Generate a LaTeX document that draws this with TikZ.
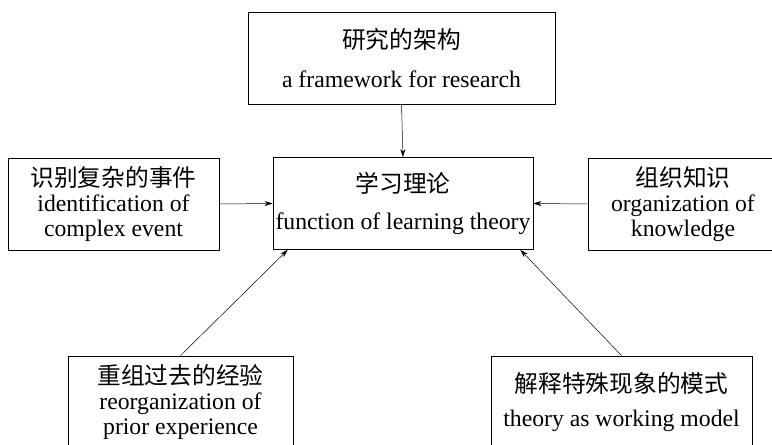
\documentclass[tikz,border=0pt]{standalone}
\usepackage{fontspec}
\setmainfont{Liberation Serif}
\newfontfamily\cjk{Noto Sans CJK SC}
\usetikzlibrary{arrows.meta}
\tikzset{
	box/.style={draw,line width=.8pt,minimum height=92bp,align=center,inner sep=0pt,font=\fontsize{23.8}{25.5}\selectfont},
	link/.style={-{Stealth[length=8pt,width=5pt]},line width=.5pt}
}

\begin{document}
\begin{tikzpicture}[x=1bp,y=-1bp]
		\useasboundingbox (0,0) rectangle (772,445);
		\clip (0,0) rectangle (772,445);
		\node[box,minimum width=307bp] (frame) at (401.5,58) {{\cjk 研究的架构}\\[13pt]a framework for research};
		\node[box,minimum width=260bp] (theory) at (403,203.5) {{\cjk 学习理论}\\[11pt]function of learning theory};
		\node[box,minimum width=211bp] (event) at (113.5,204) {{\cjk 识别复杂的事件}\\identification of\\complex event};
		\node[box,minimum width=190bp] (know) at (683,204) {{\cjk 组织知识}\\organization of\\knowledge};
		\node[box,minimum width=225bp] (prior) at (180.5,402) {{\cjk 重组过去的经验}\\reorganization of\\prior experience};
		\node[box,minimum width=261bp] (model) at (621.5,402) {{\cjk 解释特殊现象的模式}\\[8pt]theory as working model};
		\foreach \a/\b in {frame.south/theory.north,event.east/theory.west,know.west/theory.east} \draw[link] (\a) -- (\b);
		\draw[link] (prior.north) -- ([xshift=15bp]theory.south west);
		\draw[link] (model.north) -- ([xshift=-13bp]theory.south east);
	\end{tikzpicture}
\end{document}
